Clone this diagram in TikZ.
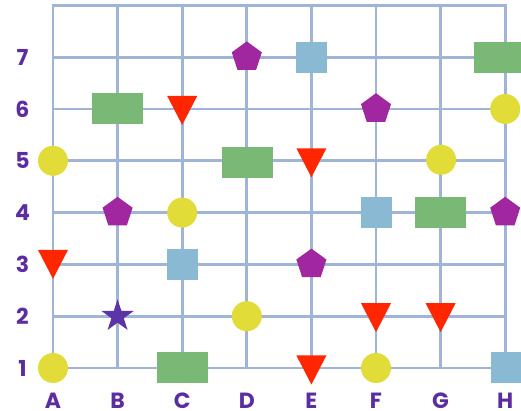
\documentclass[tikz,border=0pt]{standalone}
\usepackage{fontspec}
\setmainfont{Poppins}
\usetikzlibrary{shapes.geometric,calc}
\definecolor{gridc}{RGB}{159,180,214}
\definecolor{labc}{RGB}{92,45,160}
\definecolor{yel}{RGB}{226,220,56}
\definecolor{grn}{RGB}{122,184,118}
\definecolor{blu}{RGB}{138,186,211}
\definecolor{pur}{RGB}{160,39,159}
\definecolor{rd}{RGB}{255,38,0}
\definecolor{stc}{RGB}{92,52,168}
\tikzset{
  gridline/.style={draw=gridc, line width=2.7pt},
  lab/.style={text=labc, font=\fontsize{22}{22}\selectfont\bfseries, inner sep=0pt},
  circ/.style={circle, fill=yel, minimum size=30pt, inner sep=0pt},
  grect/.style={rectangle, fill=grn, minimum width=51pt, minimum height=31pt, inner sep=0pt},
  bsq/.style={rectangle, fill=blu, minimum width=31pt, minimum height=31pt, inner sep=0pt},
  pent/.style={regular polygon, regular polygon sides=5, fill=pur, minimum size=31.6pt, inner sep=0pt},
  pstar/.style={star, star points=5, star point ratio=2.618, fill=stc, minimum size=34pt, inner sep=0pt},
  downtri/.pic={\fill[rd] (-15,14.5) -- (15,14.5) -- (0,-14.5) -- cycle;}
}
\begin{document}
\begin{tikzpicture}[x=1pt,y=1pt]
\useasboundingbox (0,0) rectangle (521,411);
\clip (0,0) rectangle (521,411);
\foreach \c [count=\i from 0] in {A,B,C,D,E,F,G,H}
  \foreach \r in {1,...,8}
    \coordinate (\c\r) at ({53+64.6*\i},{43+51.8*(\r-1)});
% grid
\draw[gridline] (A1) rectangle (H8);
\foreach \c in {B,C,D,E,F,G} \draw[gridline] (\c1) -- (\c8);
\foreach \r in {2,...,7} \draw[gridline] (A\r) -- (H\r);
% row labels
\foreach \r in {1,...,7} \node[lab] (row\r) at (22.5,0 |- A\r) {\r};
% column labels
\foreach \c in {A,B,C,D,E,F,G,H} \node[lab, anchor=base, text depth=0pt, text height=16pt] (col\c) at (\c1 |- 0,2.5) {\c};
% row 7
\node[pent] (p1) at (D7) {};
\node[bsq] (b1) at (E7) {};
\node[grect] (g1) at ($(H7)+(-5.5,0)$) {};
% row 6
\node[grect] (g2) at (B6) {};
\pic at ($(C6)+(0,-1.5)$) {downtri};
\node[pent] (p2) at (F6) {};
\node[circ] (c1) at (H6) {};
% row 5
\node[circ] (c2) at (A5) {};
\node[grect] (g3) at ($(D5)+(0.7,-2)$) {};
\pic at ($(E5)+(0,-2)$) {downtri};
\node[circ] (c3) at ($(G5)+(0.5,1)$) {};
% row 4
\node[pent] (p3) at (B4) {};
\node[circ] (c4) at (C4) {};
\node[bsq] (b2) at (F4) {};
\node[grect] (g4) at (G4) {};
\node[pent] (p4) at (H4) {};
% row 3
\node[bsq] (b3) at (C3) {};
\pic at (A3) {downtri};
\node[pent] (p5) at (E3) {};
% row 2
\node[pstar] (s1) at (B2) {};
\node[circ] (c5) at (D2) {};
\pic at ($(F2)+(0,-1.5)$) {downtri};
\pic at ($(G2)+(0,-1.5)$) {downtri};
% row 1
\node[circ] (c6) at (A1) {};
\node[grect] (g5) at (C1) {};
\pic at ($(E1)+(0,-2)$) {downtri};
\node[circ] (c7) at (F1) {};
\node[bsq] (b4) at ($(H1)+(1,0)$) {};
\end{tikzpicture}
\end{document}
